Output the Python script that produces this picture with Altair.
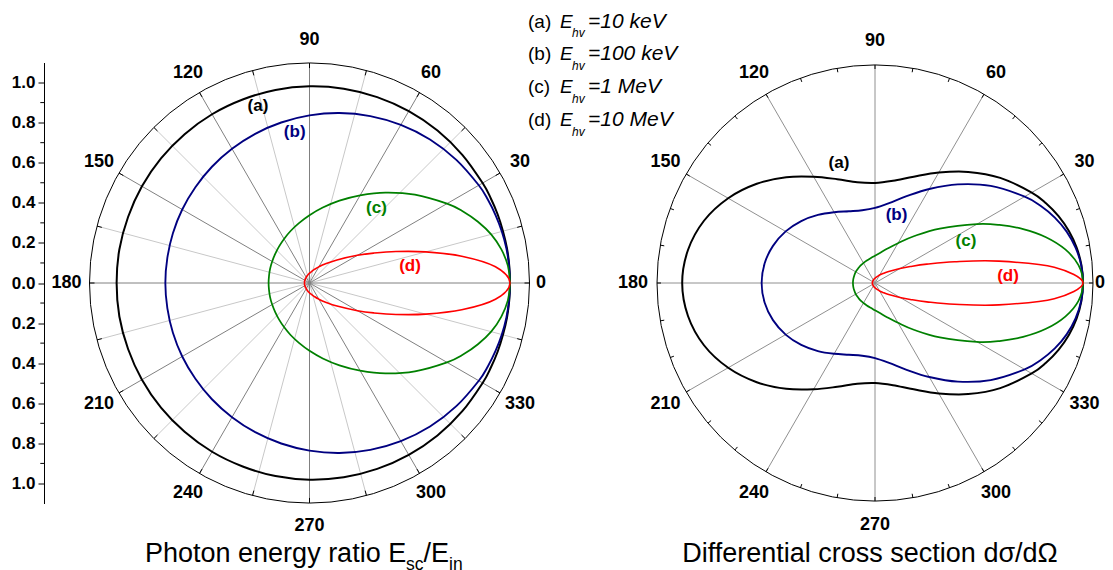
import altair as alt
import pandas as pd

FONT = "Liberation Sans"

# ---------------- data ----------------
angles = [0, 5, 10, 15, 20, 25, 30, 40, 50, 60, 70, 80, 90, 100, 110, 120, 130, 140, 150, 160, 170, 180,
          190, 200, 210, 220, 230, 240, 250, 260, 270, 280, 290, 300, 310, 320, 330, 335, 340, 345, 350, 355]

# left panel: photon energy ratio E_sc/E_in
ratio_10keV = [1.000, 1.000, 1.000, 0.999, 0.999, 0.998, 0.997, 0.995, 0.993, 0.990, 0.987, 0.984, 0.981, 0.978, 0.974, 0.972, 0.969, 0.967, 0.965, 0.963, 0.963, 0.962,
               0.963, 0.963, 0.965, 0.967, 0.969, 0.972, 0.974, 0.978, 0.981, 0.984, 0.987, 0.990, 0.993, 0.995, 0.997, 0.998, 0.999, 0.999, 1.000, 1.000]
ratio_100keV = [1.000, 0.999, 0.997, 0.993, 0.988, 0.982, 0.975, 0.956, 0.935, 0.911, 0.886, 0.861, 0.836, 0.813, 0.792, 0.773, 0.757, 0.743, 0.733, 0.725, 0.720, 0.719,
                0.720, 0.725, 0.733, 0.743, 0.757, 0.773, 0.792, 0.813, 0.836, 0.861, 0.886, 0.911, 0.935, 0.956, 0.975, 0.982, 0.988, 0.993, 0.997, 0.999]
ratio_1MeV = [1.000, 0.993, 0.971, 0.938, 0.894, 0.845, 0.792, 0.686, 0.589, 0.505, 0.437, 0.382, 0.338, 0.303, 0.276, 0.254, 0.237, 0.224, 0.215, 0.209, 0.205, 0.204,
              0.205, 0.209, 0.215, 0.224, 0.237, 0.254, 0.276, 0.303, 0.338, 0.382, 0.437, 0.505, 0.589, 0.686, 0.792, 0.845, 0.894, 0.938, 0.971, 0.993]
ratio_10MeV = [1.000, 0.931, 0.771, 0.600, 0.459, 0.353, 0.276, 0.179, 0.125, 0.093, 0.072, 0.058, 0.049, 0.042, 0.037, 0.033, 0.030, 0.028, 0.027, 0.026, 0.025, 0.025,
               0.025, 0.026, 0.027, 0.028, 0.030, 0.033, 0.037, 0.042, 0.049, 0.058, 0.072, 0.093, 0.125, 0.179, 0.276, 0.353, 0.459, 0.600, 0.771, 0.931]

# right panel: differential cross section (normalised)
xsec_10keV = [1.000, 0.996, 0.984, 0.965, 0.939, 0.907, 0.870, 0.786, 0.697, 0.613, 0.544, 0.499, 0.481, 0.492, 0.531, 0.590, 0.664, 0.742, 0.815, 0.875, 0.913, 0.927,
              0.913, 0.875, 0.815, 0.742, 0.664, 0.590, 0.531, 0.492, 0.481, 0.499, 0.544, 0.613, 0.697, 0.786, 0.870, 0.907, 0.939, 0.965, 0.984, 0.996]
xsec_100keV = [1.000, 0.995, 0.979, 0.954, 0.920, 0.878, 0.831, 0.726, 0.619, 0.522, 0.444, 0.390, 0.361, 0.355, 0.367, 0.393, 0.427, 0.463, 0.496, 0.522, 0.539, 0.545,
               0.539, 0.522, 0.496, 0.463, 0.427, 0.393, 0.367, 0.355, 0.361, 0.390, 0.444, 0.522, 0.619, 0.726, 0.831, 0.878, 0.920, 0.954, 0.979, 0.995]
xsec_1MeV = [1.000, 0.982, 0.929, 0.851, 0.758, 0.660, 0.566, 0.407, 0.295, 0.221, 0.176, 0.148, 0.131, 0.121, 0.115, 0.111, 0.109, 0.107, 0.107, 0.106, 0.106, 0.106,
             0.106, 0.106, 0.107, 0.107, 0.109, 0.111, 0.115, 0.121, 0.131, 0.148, 0.176, 0.221, 0.295, 0.407, 0.566, 0.660, 0.758, 0.851, 0.929, 0.982]
xsec_10MeV = [1.000, 0.865, 0.605, 0.396, 0.265, 0.187, 0.139, 0.086, 0.059, 0.044, 0.034, 0.028, 0.023, 0.020, 0.018, 0.016, 0.015, 0.014, 0.013, 0.013, 0.013, 0.012,
              0.013, 0.013, 0.013, 0.014, 0.015, 0.016, 0.018, 0.020, 0.023, 0.028, 0.034, 0.044, 0.059, 0.086, 0.139, 0.187, 0.265, 0.396, 0.605, 0.865]

curve_ids = ["a", "b", "c", "d"]
curve_colors = ["#000000", "#000080", "#008000", "#ff0000"]
curve_widths = [2.0, 1.6, 2.0, 2.0]
curve_tags = ["(a)", "(b)", "(c)", "(d)"]

legend_letters = ["(a)", "(b)", "(c)", "(d)"]
legend_energies = ["=10 keV", "=100 keV", "=1 MeV", "=10 MeV"]

angle_label_deg = [0, 30, 60, 90, 120, 150, 180, 210, 240, 270, 300, 330]
angle_labels = ["0", "30", "60", "90", "120", "150", "180", "210", "240", "270", "300", "330"]

left_spokes_major = [0, 30, 60, 90, 120, 150, 180, 210, 240, 270, 300, 330]
left_spokes_minor = [15, 45, 75, 105, 135, 165, 195, 225, 255, 285, 315, 345]
left_ticks = left_spokes_major + left_spokes_minor
right_spokes = [0, 30, 60, 90, 120, 150, 180, 210, 240, 270, 300, 330]
right_ticks = [0, 10, 20, 30, 40, 50, 60, 70, 80, 90, 100, 110, 120, 130, 140, 150, 160, 170,
               180, 190, 200, 210, 220, 230, 240, 250, 260, 270, 280, 290, 300, 310, 320, 330, 340, 350]

yaxis_major = [-1.0, -0.8, -0.6, -0.4, -0.2, 0.0, 0.2, 0.4, 0.6, 0.8, 1.0]
yaxis_minor = [-0.9, -0.7, -0.5, -0.3, -0.1, 0.1, 0.3, 0.5, 0.7, 0.9]

# ---------------- scales ----------------
W, H = 1061, 441
OX, OY = 44, 62.5          # plot-area origin on the page
LC, LS = 309.5, 200.5      # left centre x (page px), px per unit
RC, RS = 875.0, 208.0      # right centre x (page px), px per unit

LX = alt.Scale(domain=[(OX - LC) / LS, (OX + W - LC) / LS], nice=False, zero=False)
LY = alt.Scale(domain=[-1.1, 1.1], nice=False, zero=False)
RX = alt.Scale(domain=[(OX - RC) / RS, (OX + W - RC) / RS], nice=False, zero=False)
RY = alt.Scale(domain=[-(H / 2) / RS, (H / 2) / RS], nice=False, zero=False)

left_axis = alt.Axis(values=yaxis_major, labelExpr="format(abs(datum.value), '.1f')", title=None,
                     grid=False, domainColor="black", domainWidth=1, tickColor="black", tickWidth=1,
                     tickSize=6, labelFont=FONT, labelFontSize=17, labelFontWeight="bold",
                     labelColor="black", labelPadding=3)


def lx(f):
    return alt.X(f, type="quantitative", scale=LX, axis=None)


def ly(f):
    return alt.Y(f, type="quantitative", scale=LY, axis=left_axis)


def rx(f):
    return alt.X(f, type="quantitative", scale=RX, axis=None)


def ry(f):
    return alt.Y(f, type="quantitative", scale=RY, axis=None)


def spokes(angle_list, R, color, X, Y):
    return alt.Chart(pd.DataFrame({"angle": angle_list})).transform_calculate(
        x0="0", y0="0",
        x1=f"{R}*cos(datum.angle*PI/180)", y1=f"{R}*sin(datum.angle*PI/180)"
    ).mark_rule(color=color, strokeWidth=1).encode(x=X("x0"), y=Y("y0"), x2="x1:Q", y2="y1:Q")


def ticks(angle_list, r_in, r_out, X, Y):
    return alt.Chart(pd.DataFrame({"angle": angle_list})).transform_calculate(
        x0=f"{r_in}*cos(datum.angle*PI/180)", y0=f"{r_in}*sin(datum.angle*PI/180)",
        x1=f"{r_out}*cos(datum.angle*PI/180)", y1=f"{r_out}*sin(datum.angle*PI/180)"
    ).mark_rule(color="black", strokeWidth=1).encode(x=X("x0"), y=Y("y0"), x2="x1:Q", y2="y1:Q")


def outer_circle(diam_px, X, Y):
    return alt.Chart(pd.DataFrame({"x": [0.0], "y": [0.0]})).mark_point(
        shape="circle", size=diam_px ** 2, filled=False, color="black", strokeWidth=1, opacity=1
    ).encode(x=X("x"), y=Y("y"))


def angle_text(r_main, r_zero, X, Y):
    return alt.Chart(pd.DataFrame({"angle": angle_label_deg, "label": angle_labels})).transform_calculate(
        rr=f"datum.angle == 0 ? {r_zero} : {r_main}",
        x="datum.rr*cos(datum.angle*PI/180)", y="datum.rr*sin(datum.angle*PI/180)"
    ).mark_text(font=FONT, fontSize=18, fontWeight="bold", color="black", align="center",
                baseline="middle").encode(x=X("x"), y=Y("y"), text="label:N")


def curves(series, X, Y):
    rows = []
    for cid, vals in zip(curve_ids, series):
        for i, (a, r) in enumerate(zip(angles, vals)):
            rows.append({"curve": cid, "i": i, "angle": a, "r": r})
    return alt.Chart(pd.DataFrame(rows)).transform_calculate(
        x="datum.r*cos(datum.angle*PI/180)", y="datum.r*sin(datum.angle*PI/180)"
    ).mark_line(interpolate="cardinal-closed").encode(
        x=X("x"), y=Y("y"), order="i:Q",
        color=alt.Color("curve:N", scale=alt.Scale(domain=curve_ids, range=curve_colors), legend=None),
        strokeWidth=alt.StrokeWidth("curve:N", scale=alt.Scale(domain=curve_ids, range=curve_widths), legend=None),
    )


def txt(s, x, y, size, color="black", weight="normal", style="normal", align="left",
        baseline="alphabetic", dy=0):
    return alt.Chart(pd.DataFrame({"t": [s]})).mark_text(
        font=FONT, fontSize=size, fontWeight=weight, fontStyle=style, color=color,
        align=align, baseline=baseline, dy=dy
    ).encode(text="t:N", x=alt.value(x), y=alt.value(y))


# ---------------- left panel ----------------
RL_OUT = 220 / LS
left_layers = [
    spokes(left_spokes_minor, RL_OUT, "#c8c8c8", lx, ly),
    spokes(left_spokes_major, RL_OUT, "#808080", lx, ly),
    ticks(left_ticks, 215 / LS, RL_OUT, lx, ly),
    outer_circle(440, lx, ly),
    curves([ratio_10keV, ratio_100keV, ratio_1MeV, ratio_10MeV], lx, ly),
    angle_text(243 / LS, 231.5 / LS, lx, ly),
    alt.Chart(pd.DataFrame({"v": yaxis_minor})).mark_rule(color="black", strokeWidth=1).encode(
        x=alt.value(-3.7), x2=alt.value(0), y=ly("v")),
]
left_tag_pos = [(258, 106), (294.7, 132), (376.5, 208), (410, 266)]
for tag, col, (px, py) in zip(curve_tags, curve_colors, left_tag_pos):
    left_layers.append(txt(tag, px - OX, py - OY, 17, color=col, weight="bold",
                           align="center", baseline="middle"))

# legend (rows placed through the left y scale)
leg = alt.Chart(pd.DataFrame({"i": [0, 1, 2, 3], "letter": legend_letters, "energy": legend_energies})
                ).transform_calculate(yy="1.2746 - 0.1646*datum.i")
left_layers += [
    leg.mark_text(font=FONT, fontSize=19, align="left", baseline="alphabetic", color="black").encode(
        x=alt.value(528 - OX), y=ly("yy"), text="letter:N"),
    leg.mark_text(font=FONT, fontSize=19, fontStyle="italic", align="left", baseline="alphabetic",
                  color="black", text="E").encode(x=alt.value(560 - OX), y=ly("yy")),
    leg.mark_text(font=FONT, fontSize=12, fontStyle="italic", align="left", baseline="alphabetic",
                  color="black", text="hv", dy=9.5).encode(x=alt.value(572 - OX), y=ly("yy")),
    leg.mark_text(font=FONT, fontSize=21, fontStyle="italic", align="left", baseline="alphabetic",
                  color="black").encode(x=alt.value(588 - OX), y=ly("yy"), text="energy:N"),
]

# bottom title of the left panel
TB = 562 - OY
TF, SF = 27, 17.5
left_layers += [
    txt("Photon energy ratio E", 145 - OX, TB, TF),
    txt("sc", 145 + 261.0 - OX, TB, SF, dy=8),
    txt("/E", 145 + 278.5 - OX, TB, TF),
    txt("in", 145 + 304.0 - OX, TB, SF, dy=8),
]
left = alt.layer(*left_layers)

# ---------------- right panel ----------------
RR_OUT = 218 / RS
right_layers = [
    spokes(right_spokes, RR_OUT, "#909090", rx, ry),
    ticks(right_ticks, 214 / RS, RR_OUT, rx, ry),
    outer_circle(436, rx, ry),
    curves([xsec_10keV, xsec_100keV, xsec_1MeV, xsec_10MeV], rx, ry),
    angle_text(242 / RS, 225 / RS, rx, ry),
]
right_tag_pos = [(839, 162.5), (896.5, 214.8), (966, 241), (1008, 276)]
for tag, col, (px, py) in zip(curve_tags, curve_colors, right_tag_pos):
    right_layers.append(txt(tag, px - OX, py - OY, 17, color=col, weight="bold",
                            align="center", baseline="middle"))
right_layers.append(txt("Differential cross section d\u03c3/d\u03a9", 870 - OX, TB, TF, align="center"))
right = alt.layer(*right_layers)

chart = alt.layer(left, right).resolve_scale(x="independent", y="independent").properties(
    width=W, height=H,
    autosize=alt.AutoSizeParams(type="none"),
    padding={"left": 36, "top": 54.5, "right": 0, "bottom": 66.5},
).configure_view(stroke=None)

chart.save("out.html", embed_options={"renderer": "svg", "actions": False})
